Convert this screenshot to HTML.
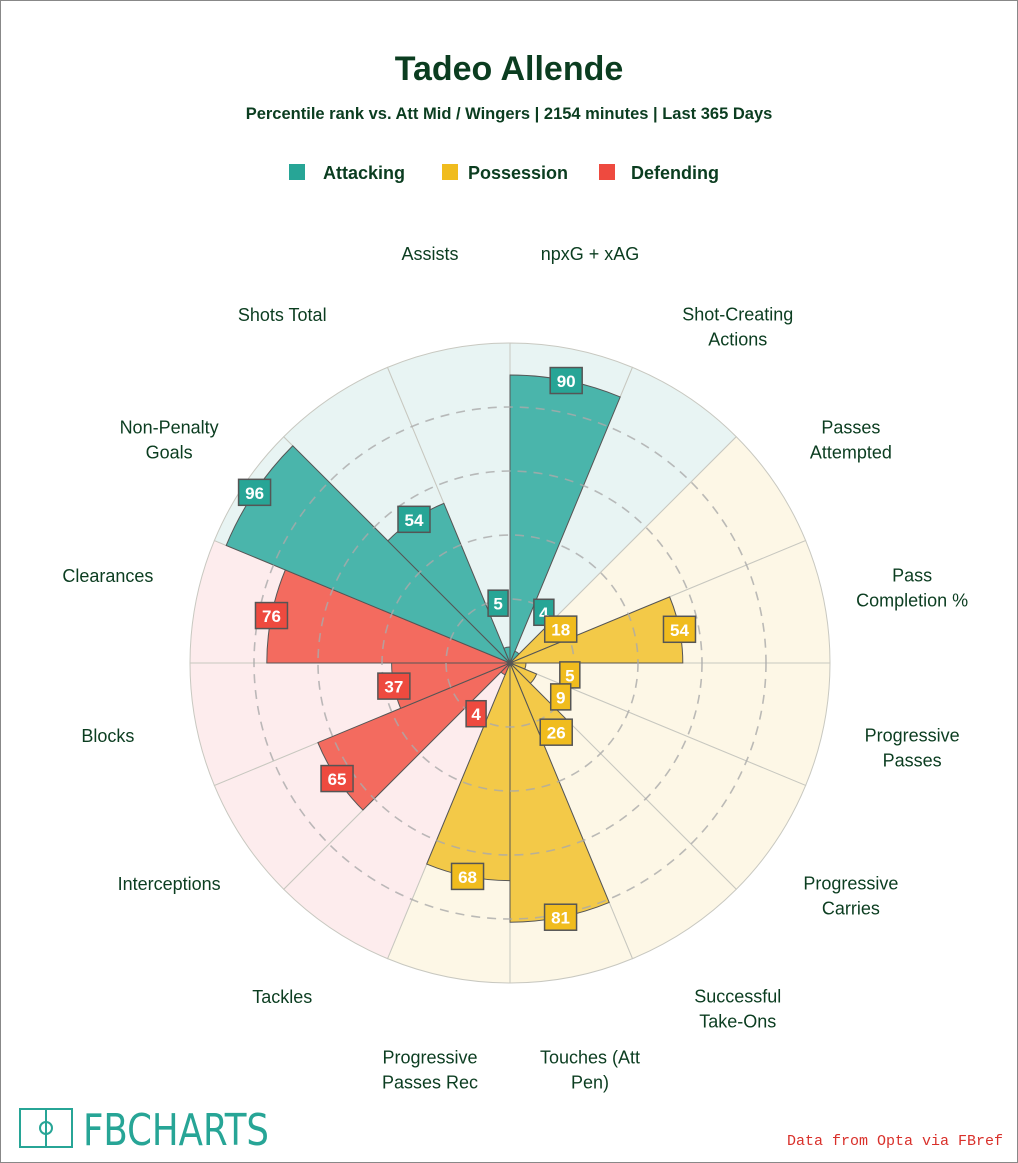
<!DOCTYPE html>
<html><head><meta charset="utf-8">
<style>
html,body{margin:0;padding:0;background:#fff;}
#frame{position:relative;width:1016px;height:1161px;border:1px solid #888;background:#fff;font-family:"Liberation Sans",sans-serif;overflow:hidden;}
</style></head><body>
<div id="frame">
<svg id="chart" width="1016" height="1161" xmlns="http://www.w3.org/2000/svg">
<text x="508" y="79" text-anchor="middle" font-size="34" font-weight="bold" fill="#0b3d20" font-family="Liberation Sans, sans-serif">Tadeo Allende</text>
<text x="508" y="118" text-anchor="middle" font-size="16.5" font-weight="bold" fill="#0b3d20" font-family="Liberation Sans, sans-serif">Percentile rank vs. Att Mid / Wingers | 2154 minutes | Last 365 Days</text>
<g font-family="Liberation Sans, sans-serif" font-size="18" font-weight="bold" fill="#0b3d20">
<rect x="288" y="163" width="16" height="16" fill="#27a596"/>
<text x="322" y="178">Attacking</text>
<rect x="441" y="163" width="16" height="16" fill="#f0bc1e"/>
<text x="467" y="178">Possession</text>
<rect x="598" y="163" width="16" height="16" fill="#ee4a3f"/>
<text x="630" y="178">Defending</text>
</g>
<g id="plot"></g>
<g>
<rect x="19" y="1108" width="52" height="38" fill="none" stroke="#27a596" stroke-width="2"/>
<line x1="45" y1="1108" x2="45" y2="1146" stroke="#27a596" stroke-width="2"/>
<circle cx="45" cy="1127" r="6" fill="none" stroke="#27a596" stroke-width="2"/>
<text x="82" y="1144" font-size="44" fill="#27a596" font-family="DejaVu Sans Condensed, Liberation Sans Narrow, sans-serif" textLength="186" lengthAdjust="spacingAndGlyphs">FBCHARTS</text>
</g>
<text x="1002" y="1144" text-anchor="end" font-size="15" fill="#d9302a" font-family="Liberation Mono, monospace">Data from Opta via FBref</text>
</svg>
</div>
<script>
const categories = ["npxG + xAG","Shot-Creating Actions","Passes Attempted","Pass Completion %","Progressive Passes","Progressive Carries","Successful Take-Ons","Touches (Att Pen)","Progressive Passes Rec","Tackles","Interceptions","Blocks","Clearances","Non-Penalty Goals","Shots Total","Assists"];
const labelLines = [["npxG + xAG"],["Shot-Creating","Actions"],["Passes","Attempted"],["Pass","Completion %"],["Progressive","Passes"],["Progressive","Carries"],["Successful","Take-Ons"],["Touches (Att","Pen)"],["Progressive","Passes Rec"],["Tackles"],["Interceptions"],["Blocks"],["Clearances"],["Non-Penalty","Goals"],["Shots Total"],["Assists"]];
const groups = ["att","att","pos","pos","pos","pos","pos","pos","pos","def","def","def","def","att","att","att"];
const values = [90,4,18,54,5,9,26,81,68,4,65,37,76,96,54,5];
const gridTicks = [20,40,60,80];

const NS="http://www.w3.org/2000/svg";
const cx=509, cy=662, R=320;
const bg={att:"#e8f4f3",pos:"#fdf7e6",def:"#fdeced"};
const bar={att:"#4ab5ab",pos:"#f3c948",def:"#f36b5f"};
const box={att:"#27a596",pos:"#f0bc1e",def:"#ee4a3f"};
const plot=document.getElementById('plot');
function rScale(v){return v/100*R;}
function pt(r,a){return [cx+r*Math.sin(a), cy-r*Math.cos(a)];}
function wedge(r,a0,a1){const p0=pt(r,a0),p1=pt(r,a1);return `M${cx},${cy}L${p0[0]},${p0[1]}A${r},${r} 0 0 1 ${p1[0]},${p1[1]}Z`;}
function mk(tag,attrs){const e=document.createElementNS(NS,tag);for(const k in attrs)e.setAttribute(k,attrs[k]);plot.appendChild(e);return e;}
const n=categories.length, step=2*Math.PI/n;
categories.forEach((c,i)=>{
  const e=mk('path',{d:wedge(R,i*step,(i+1)*step),fill:bg[groups[i]],stroke:"#c8c8c0","stroke-width":1});
  
  
});
values.forEach((v,i)=>{
  const e=mk('path',{d:wedge(rScale(v),i*step,(i+1)*step),fill:bar[groups[i]],stroke:"#555","stroke-width":1});
  
  
});
gridTicks.forEach(t=>{
  const e=mk('circle',{cx:cx,cy:cy,r:rScale(t),fill:"none",stroke:"#aaa","stroke-width":1.6,"stroke-dasharray":"9,7",opacity:0.8});
  
  
});
labelLines.forEach((lines,i)=>{
  const a=(i+0.5)*step;const p=pt(410,a);
  const y0 = lines.length>1 ? p[1]-12.5+11 : p[1]-1;
  const t=mk('text',{x:p[0],y:y0,"text-anchor":"middle","font-size":18,fill:"#0b3d20","font-family":"Liberation Sans, sans-serif"});
  
  
  lines.forEach((l,j)=>{const s=document.createElementNS(NS,'tspan');s.setAttribute('x',p[0]);s.setAttribute('dy',j?25:0);s.textContent=l;t.appendChild(s);});
});
values.forEach((v,i)=>{
  const a=(i+0.5)*step;const p=pt(Math.max(rScale(v),61),a);
  const w=String(v).length>1?32:20;
  const r=mk('rect',{x:p[0]-w/2,y:p[1]-13,width:w,height:26,fill:box[groups[i]],stroke:"#555","stroke-width":1.5});
  
  
  const t=mk('text',{x:p[0],y:p[1]+6.5,"text-anchor":"middle","font-size":17,"font-weight":"bold",fill:"#fff","font-family":"Liberation Sans, sans-serif"});
  
  
  t.textContent=v;
});
</script>
</body></html>
